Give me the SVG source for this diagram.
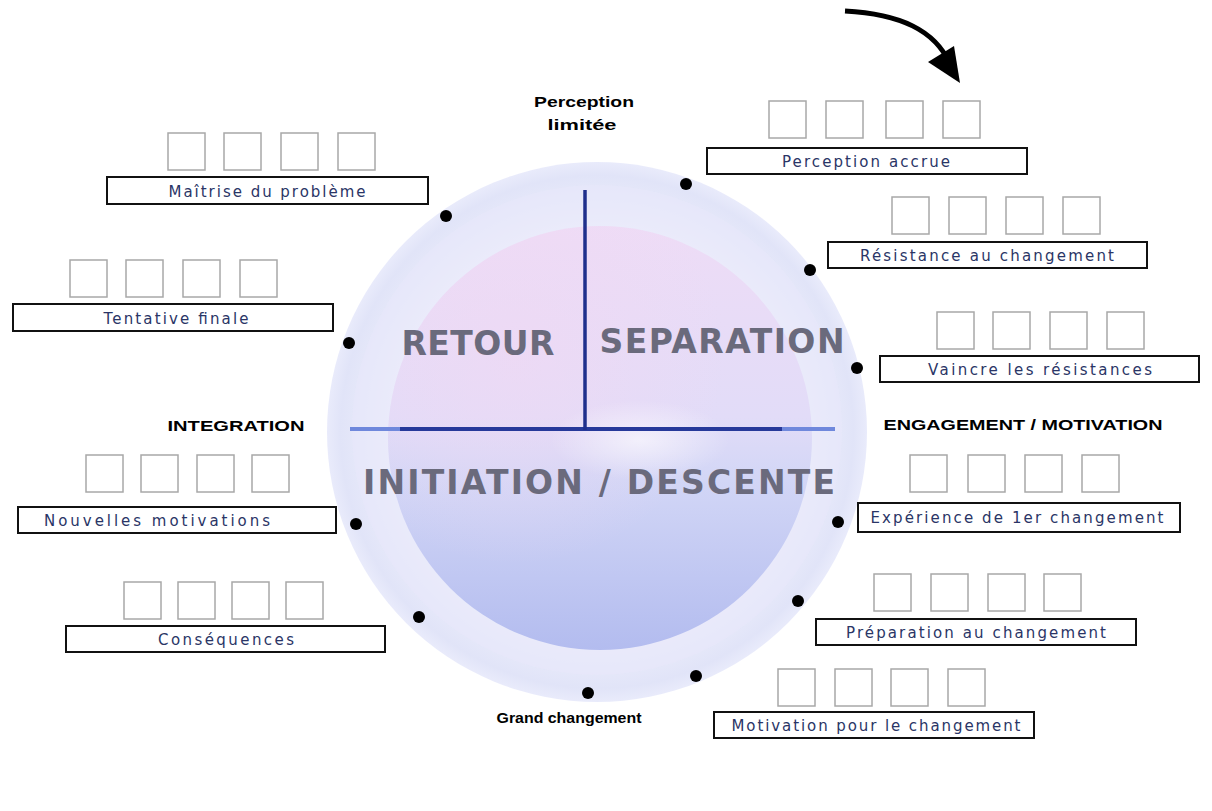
<svg xmlns="http://www.w3.org/2000/svg" width="1212" height="811" viewBox="0 0 1212 811">
<style>
.sq{fill:#fff;stroke:#a8a8a8;stroke-width:1.5}
.box{fill:#fff;stroke:#111;stroke-width:2}
.lbl{font-family:"DejaVu Sans",Verdana,sans-serif;font-size:15px;fill:#2a3566;text-anchor:middle}
.stage{font-family:"Liberation Sans",Arial,sans-serif;font-size:15px;font-weight:bold;fill:#000;text-anchor:middle}
.big{font-family:"DejaVu Sans",Verdana,sans-serif;font-size:33px;font-weight:bold;fill:#6a6a7c;text-anchor:middle}
.dot{fill:#000}
</style>
<defs>
<radialGradient id="halo" cx="0.5" cy="0.5" r="0.5">
<stop offset="0.75" stop-color="#eff0fc"/>
<stop offset="0.95" stop-color="#e1e4f8"/>
<stop offset="1" stop-color="#e9ebfb"/>
</radialGradient>
<linearGradient id="sphere" x1="0" y1="0" x2="0" y2="1">
<stop offset="0" stop-color="#eedcf6"/>
<stop offset="0.45" stop-color="#e2dcf8"/>
<stop offset="0.6" stop-color="#d2d6f6"/>
<stop offset="1" stop-color="#b3bcef"/>
</linearGradient>
<radialGradient id="pink" cx="0.3" cy="0.3" r="0.5">
<stop offset="0" stop-color="#f1d8f3" stop-opacity="0.6"/>
<stop offset="1" stop-color="#f1d8f3" stop-opacity="0"/>
</radialGradient>
<radialGradient id="glow" cx="0.5" cy="0.5" r="0.5">
<stop offset="0" stop-color="#ffffff" stop-opacity="0.6"/>
<stop offset="1" stop-color="#ffffff" stop-opacity="0"/>
</radialGradient>
</defs>
<rect width="1212" height="811" fill="#fff"/>

<g id="wheel">
<circle cx="597" cy="432" r="270" fill="url(#halo)"/>
<circle cx="597" cy="430" r="245" fill="#e8e7fa" opacity="0.6"/>
<circle cx="600" cy="438" r="212" fill="url(#sphere)"/>
<circle cx="600" cy="438" r="212" fill="url(#pink)"/>
<ellipse cx="640" cy="440" rx="90" ry="40" fill="url(#glow)"/>
<line x1="350" y1="429" x2="835" y2="429" stroke="#6f88dc" stroke-width="4"/>
<line x1="400" y1="429" x2="782" y2="429" stroke="#26399a" stroke-width="4"/>
<line x1="585" y1="190" x2="585" y2="430" stroke="#1f2f8c" stroke-width="3.5"/>
<text class="big" x="478" y="355" textLength="153" lengthAdjust="spacing">RETOUR</text>
<text class="big" x="722" y="353" textLength="245" lengthAdjust="spacing">SEPARATION</text>
<text class="big" x="599" y="494" textLength="472" lengthAdjust="spacing">INITIATION / DESCENTE</text>
</g>

<g id="stage-labels">
<text class="stage" x="584" y="107" textLength="100" lengthAdjust="spacingAndGlyphs">Perception</text>
<text class="stage" x="582" y="130" textLength="69" lengthAdjust="spacingAndGlyphs">limitée</text>
<text class="stage" x="236" y="431" textLength="137" lengthAdjust="spacingAndGlyphs">INTEGRATION</text>
<text class="stage" x="1023" y="430" textLength="279" lengthAdjust="spacingAndGlyphs">ENGAGEMENT / MOTIVATION</text>
<text class="stage" x="569" y="723" textLength="145" lengthAdjust="spacingAndGlyphs">Grand changement</text>
</g>

<g id="connectors">
<path d="M845,11 C900,14 935,30 950,64" fill="none" stroke="#000" stroke-width="5"/>
<polygon points="928,62 954,46 960,83" fill="#000"/>
</g>

<g id="dots">
<circle class="dot" cx="686" cy="184" r="6"/>
<circle class="dot" cx="810" cy="270" r="6"/>
<circle class="dot" cx="857" cy="368" r="6"/>
<circle class="dot" cx="838" cy="522" r="6"/>
<circle class="dot" cx="798" cy="601" r="6"/>
<circle class="dot" cx="696" cy="676" r="6"/>
<circle class="dot" cx="588" cy="693" r="6"/>
<circle class="dot" cx="419" cy="617" r="6"/>
<circle class="dot" cx="356" cy="524" r="6"/>
<circle class="dot" cx="349" cy="343" r="6"/>
<circle class="dot" cx="446" cy="216" r="6"/>
</g>

<g id="perception-accrue">
<rect class="sq" x="769" y="101" width="37" height="37"/><rect class="sq" x="826" y="101" width="37" height="37"/><rect class="sq" x="886" y="101" width="37" height="37"/><rect class="sq" x="943" y="101" width="37" height="37"/>
<rect class="box" x="707" y="148" width="320" height="26"/>
<text class="lbl" x="866" y="167" textLength="168" lengthAdjust="spacing">Perception accrue</text>
</g>

<g id="resistance">
<rect class="sq" x="892" y="197" width="37" height="37"/><rect class="sq" x="949" y="197" width="37" height="37"/><rect class="sq" x="1006" y="197" width="37" height="37"/><rect class="sq" x="1063" y="197" width="37" height="37"/>
<rect class="box" x="828" y="242" width="319" height="26"/>
<text class="lbl" x="987" y="261" textLength="254" lengthAdjust="spacing">Résistance au changement</text>
</g>

<g id="vaincre">
<rect class="sq" x="937" y="312" width="37" height="37"/><rect class="sq" x="993" y="312" width="37" height="37"/><rect class="sq" x="1050" y="312" width="37" height="37"/><rect class="sq" x="1107" y="312" width="37" height="37"/>
<rect class="box" x="880" y="356" width="319" height="26"/>
<text class="lbl" x="1040" y="375" textLength="224" lengthAdjust="spacing">Vaincre les résistances</text>
</g>

<g id="experience">
<rect class="sq" x="910" y="455" width="37" height="37"/><rect class="sq" x="968" y="455" width="37" height="37"/><rect class="sq" x="1025" y="455" width="37" height="37"/><rect class="sq" x="1082" y="455" width="37" height="37"/>
<rect class="box" x="858" y="503" width="322" height="29"/>
<text class="lbl" x="1017" y="523" textLength="293" lengthAdjust="spacing">Expérience de 1er changement</text>
</g>

<g id="preparation">
<rect class="sq" x="874" y="574" width="37" height="37"/><rect class="sq" x="931" y="574" width="37" height="37"/><rect class="sq" x="988" y="574" width="37" height="37"/><rect class="sq" x="1044" y="574" width="37" height="37"/>
<rect class="box" x="816" y="619" width="320" height="26"/>
<text class="lbl" x="976" y="638" textLength="260" lengthAdjust="spacing">Préparation au changement</text>
</g>

<g id="motivation">
<rect class="sq" x="778" y="669" width="37" height="37"/><rect class="sq" x="835" y="669" width="37" height="37"/><rect class="sq" x="891" y="669" width="37" height="37"/><rect class="sq" x="948" y="669" width="37" height="37"/>
<rect class="box" x="714" y="712" width="320" height="26"/>
<text class="lbl" x="876" y="731" textLength="289" lengthAdjust="spacing">Motivation pour le changement</text>
</g>

<g id="maitrise">
<rect class="sq" x="168" y="133" width="37" height="37"/><rect class="sq" x="224" y="133" width="37" height="37"/><rect class="sq" x="281" y="133" width="37" height="37"/><rect class="sq" x="338" y="133" width="37" height="37"/>
<rect class="box" x="107" y="177" width="321" height="27"/>
<text class="lbl" x="267" y="197" textLength="197" lengthAdjust="spacing">Maîtrise du problème</text>
</g>

<g id="tentative">
<rect class="sq" x="70" y="260" width="37" height="37"/><rect class="sq" x="126" y="260" width="37" height="37"/><rect class="sq" x="183" y="260" width="37" height="37"/><rect class="sq" x="240" y="260" width="37" height="37"/>
<rect class="box" x="13" y="304" width="320" height="27"/>
<text class="lbl" x="176" y="324" textLength="145" lengthAdjust="spacing">Tentative finale</text>
</g>

<g id="nouvelles">
<rect class="sq" x="86" y="455" width="37" height="37"/><rect class="sq" x="141" y="455" width="37" height="37"/><rect class="sq" x="197" y="455" width="37" height="37"/><rect class="sq" x="252" y="455" width="37" height="37"/>
<rect class="box" x="18" y="507" width="318" height="26"/>
<text class="lbl" x="157" y="526" textLength="226" lengthAdjust="spacing">Nouvelles motivations</text>
</g>

<g id="consequences">
<rect class="sq" x="124" y="582" width="37" height="37"/><rect class="sq" x="178" y="582" width="37" height="37"/><rect class="sq" x="232" y="582" width="37" height="37"/><rect class="sq" x="286" y="582" width="37" height="37"/>
<rect class="box" x="66" y="626" width="319" height="26"/>
<text class="lbl" x="226" y="645" textLength="136" lengthAdjust="spacing">Conséquences</text>
</g>
</svg>
